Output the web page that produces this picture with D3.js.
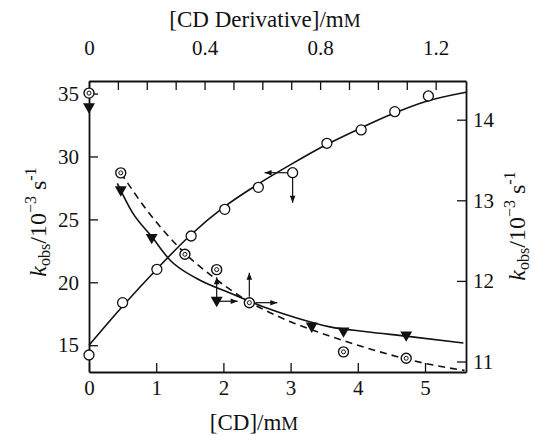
<!DOCTYPE html>
<head>
  <meta charset="utf-8">
  <script src="https://d3js.org/d3.v7.min.js"></script>
  <style>
    body { margin:0; background:#fff; }
    svg { display:block; }
    text { font-family: "Liberation Serif", "Times New Roman", serif; fill:#111; }
  </style>
</head>

<body>
  <svg width="535" height="436"></svg>
  <script>
    // open circles : [CD] (bottom axis) vs left axis
    var cdConc = [0, 0.5, 1.01, 1.52, 2.02, 2.52, 3.03, 3.54, 4.05, 4.55, 5.05];
    var cdKobs = [14.22, 18.38, 21.03, 23.68, 25.8, 27.55, 28.71, 31.05, 32.11, 33.56, 34.81];
    var cdFitX = [0, 0.5, 1, 1.5, 2, 2.5, 3, 3.5, 4, 4.5, 5, 5.61];
    var cdFitY = [15.0, 18.1, 21.0, 23.7, 25.95, 27.75, 29.35, 30.85, 32.15, 33.35, 34.35, 35.1];

    // double circles : [CD derivative] (top axis) vs right axis, dashed fit
    var dcConc = [0, 0.11, 0.332, 0.442, 0.555, 0.881, 1.098];
    var dcKobs = [14.33, 13.34, 12.33, 12.14, 11.73, 11.12, 11.04];
    var dcFitX = [0.11, 0.2, 0.33, 0.44, 0.55, 0.68, 0.83, 0.96, 1.1, 1.2, 1.3];
    var dcFitY = [13.34, 12.88, 12.35, 12.02, 11.75, 11.52, 11.32, 11.17, 11.03, 10.95, 10.89];

    // filled triangles : [CD derivative] (top axis) vs right axis, solid fit
    var trConc = [0, 0.11, 0.217, 0.442, 0.771, 0.881, 1.098];
    var trKobs = [14.16, 13.13, 12.54, 11.76, 11.44, 11.38, 11.33];
    var trFitX = [0.098, 0.15, 0.217, 0.28, 0.373, 0.488, 0.603, 0.719, 0.834, 0.961, 1.097, 1.296];
    var trFitY = [13.21, 12.85, 12.55, 12.26, 12.03, 11.85, 11.68, 11.54, 11.43, 11.37, 11.315, 11.23];

    // tick labels
    var bottomTicks = [0, 1, 2, 3, 4, 5];
    var topTicks = d3.range(0, 1.25, 0.1);
    var topLabels = ['0', '0.4', '0.8', '1.2'];
    var leftTicks = [15, 20, 25, 30, 35];
    var rightTicks = [11, 12, 13, 14];

    var margin = {top: 81, right: 69, bottom: 64, left: 89};
    var width = 535 - margin.left - margin.right;
    var height = 436 - margin.top - margin.bottom;

    var svg = d3.select('svg');
    var g = svg.append('g')
      .attr('transform', 'translate(' + [margin.left, margin.top] + ')');

    var x = d3.scaleLinear().domain([0, 5.61]).range([0, width]);
    var xTop = d3.scaleLinear().domain([0, 1.305]).range([0, width]);
    var yL = d3.scaleLinear().domain([12.87, 36]).range([height, 0]);
    var yR = d3.scaleLinear().domain([10.87, 14.48]).range([height, 0]);

    // arrow head
    svg.append('defs').append('marker')
      .attr('id', 'arrow')
      .attr('viewBox', '0 0 10 10')
      .attr('refX', 10).attr('refY', 5)
      .attr('markerWidth', 8).attr('markerHeight', 7)
      .attr('markerUnits', 'userSpaceOnUse')
      .attr('orient', 'auto')
      .append('path')
      .attr('d', 'M0,1 L10,5 L0,9 z')
      .attr('fill', '#111');

    // AXES (ticks point inwards)
    g.append('g')
      .attr('transform', 'translate(0,' + height + ')')
      .call(d3.axisBottom(x).tickValues(bottomTicks).tickSizeInner(-9).tickSizeOuter(0).tickPadding(8)
        .tickFormat(d3.format('d')));

    g.append('g')
      .call(d3.axisTop(xTop).tickValues(topTicks).tickSizeInner(-9).tickSizeOuter(0).tickPadding(26)
        .tickFormat(function(d) {
          var s = d3.format('.1~f')(d);
          return topLabels.indexOf(s) >= 0 ? s : '';
        }));

    g.append('g')
      .call(d3.axisLeft(yL).tickValues(leftTicks).tickSizeInner(-9).tickSizeOuter(0).tickPadding(10)
        .tickFormat(d3.format('d')));

    g.append('g')
      .attr('transform', 'translate(' + width + ',0)')
      .call(d3.axisRight(yR).tickValues(rightTicks).tickSizeInner(-9).tickSizeOuter(0).tickPadding(7)
        .tickFormat(d3.format('d')));

    g.selectAll('.domain').attr('stroke', '#111').attr('stroke-width', 1.8);
    g.selectAll('.tick line').attr('stroke', '#111').attr('stroke-width', 1.3);
    g.selectAll('.tick text').attr('font-size', 21).attr('fill', '#111')
      .style('font-family', '"Liberation Serif", "Times New Roman", serif');

    // FIT CURVES
    var lineB = d3.line().curve(d3.curveMonotoneX)
      .x(function(d) { return x(d[0]); })
      .y(function(d) { return yL(d[1]); });
    var lineT = d3.line().curve(d3.curveMonotoneX)
      .x(function(d) { return xTop(d[0]); })
      .y(function(d) { return yR(d[1]); });

    g.append('path')
      .datum(d3.zip(cdFitX, cdFitY))
      .attr('d', lineB)
      .attr('fill', 'none').attr('stroke', '#111').attr('stroke-width', 1.6);

    g.append('path')
      .datum(d3.zip(trFitX, trFitY))
      .attr('d', lineT)
      .attr('fill', 'none').attr('stroke', '#111').attr('stroke-width', 1.6);

    g.append('path')
      .datum(d3.zip(dcFitX, dcFitY))
      .attr('d', lineT)
      .attr('fill', 'none').attr('stroke', '#111').attr('stroke-width', 1.6)
      .attr('stroke-dasharray', '7,5');

    // MARKERS
    g.selectAll('.tri')
      .data(d3.zip(trConc, trKobs))
      .enter().append('path')
      .attr('class', 'tri')
      .attr('d', d3.symbol().type(d3.symbolTriangle).size(62))
      .attr('transform', function(d) {
        return 'translate(' + [xTop(d[0]), yR(d[1])] + ') rotate(180)';
      })
      .attr('fill', '#111');

    var dc = g.selectAll('.dc')
      .data(d3.zip(dcConc, dcKobs))
      .enter().append('g')
      .attr('class', 'dc')
      .attr('transform', function(d) { return 'translate(' + [xTop(d[0]), yR(d[1])] + ')'; });
    dc.append('circle').attr('r', 5).attr('fill', '#fff').attr('stroke', '#111').attr('stroke-width', 1.4);
    dc.append('circle').attr('r', 2).attr('fill', 'none').attr('stroke', '#111').attr('stroke-width', 1);

    g.selectAll('.oc')
      .data(d3.zip(cdConc, cdKobs))
      .enter().append('circle')
      .attr('class', 'oc')
      .attr('cx', function(d) { return x(d[0]); })
      .attr('cy', function(d) { return yL(d[1]); })
      .attr('r', 5)
      .attr('fill', '#fff').attr('stroke', '#111').attr('stroke-width', 1.3);

    // axis-pointer arrows next to one point of each series
    function arrow(px, py, dx1, dy1, dx2, dy2) {
      g.append('line')
        .attr('x1', px + dx1).attr('y1', py + dy1)
        .attr('x2', px + dx2).attr('y2', py + dy2)
        .attr('stroke', '#111').attr('stroke-width', 1.2)
        .attr('marker-end', 'url(#arrow)');
    }
    var pc = [x(cdConc[6]), yL(cdKobs[6])];
    arrow(pc[0], pc[1], -5, 0, -28, 0);
    arrow(pc[0], pc[1], 0, 5, 0, 30);
    var pt = [xTop(trConc[3]), yR(trKobs[3])];
    arrow(pt[0], pt[1], 0, -2, 0, -23);
    arrow(pt[0], pt[1], 2, 1, 21, 1);
    var pd = [xTop(dcConc[4]), yR(dcKobs[4])];
    arrow(pd[0], pd[1], 0, -6, 0, -30);
    arrow(pd[0], pd[1], 6, 0, 28, 0);

    // TITLES
    var topTitle = svg.append('text')
      .attr('x', 265).attr('y', 27)
      .attr('text-anchor', 'middle').attr('font-size', 23)
      .text('[CD Derivative]/m');
    topTitle.append('tspan').attr('font-size', 19).text('M');

    var botTitle = svg.append('text')
      .attr('x', 254).attr('y', 430)
      .attr('text-anchor', 'middle').attr('font-size', 23)
      .text('[CD]/m');
    botTitle.append('tspan').attr('font-size', 19).text('M');

    function kTitle(cx, cy) {
      var t = svg.append('text')
        .attr('transform', 'translate(' + [cx, cy] + ') rotate(-90)')
        .attr('text-anchor', 'middle').attr('font-size', 24);
      t.append('tspan').attr('font-style', 'italic').text('k');
      t.append('tspan').attr('font-size', 16).attr('dy', 4).text('obs');
      t.append('tspan').attr('dy', -4).text('/10');
      t.append('tspan').attr('font-size', 16).attr('dy', -10).text('\u22123');
      t.append('tspan').attr('dy', 10).text(' s');
      t.append('tspan').attr('font-size', 16).attr('dy', -10).text('-1');
    }
    kTitle(46, 222);
    kTitle(525, 226);
  </script>
</body>
